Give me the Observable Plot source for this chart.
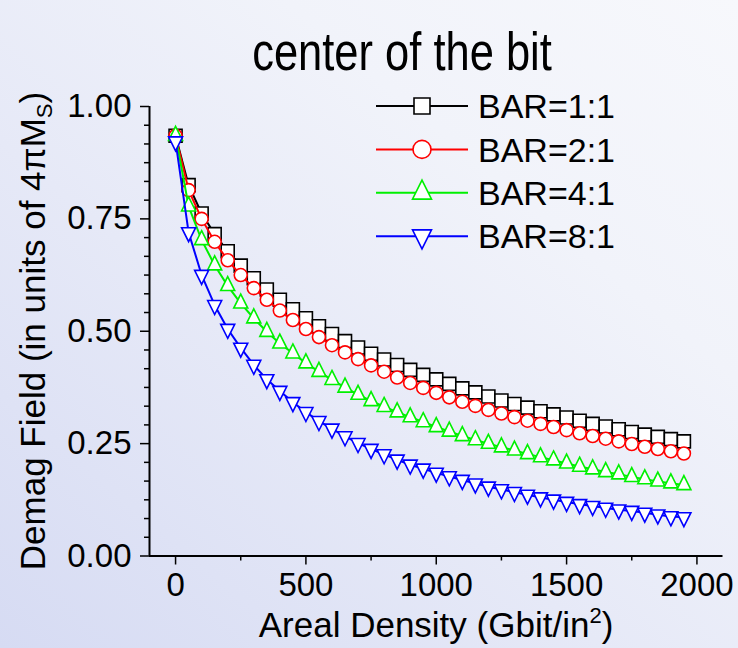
<!DOCTYPE html>
<html>
<head>
<meta charset="utf-8">
<script src="https://cdn.jsdelivr.net/npm/d3@7"></script>
<script src="https://cdn.jsdelivr.net/npm/@observablehq/plot@0.6"></script>
<style>
  html, body { margin: 0; padding: 0; }
  #page {
    position: relative; width: 738px; height: 648px; overflow: hidden;
    background: linear-gradient(40deg, #d6dbf3 0%, #e6e9f7 40%, #f1f3fa 70%, #f7f8fc 100%);
    font-family: "Liberation Sans", Arial, sans-serif;
  }
  #title {
    position: absolute; top: 25px; left: 402px; white-space: nowrap;
    font-size: 53px; line-height: 53px; color: #000;
    transform: translateX(-50%) scaleX(0.82);
  }
  #chart { position: absolute; top: 80px; left: 0; }
  #overlay { position: absolute; top: 0; left: 0; pointer-events: none; }
</style>
</head>
<body>
<div id="page">
  <div id="title">center of the bit</div>
  <div id="chart"></div>
  <svg id="overlay" width="738" height="648"></svg>
</div>
<script>
// ---------- data ----------
const density = [0,50,100,150,200,250,300,350,400,450,500,550,600,650,700,750,800,850,900,950,
  1000,1050,1100,1150,1200,1250,1300,1350,1400,1450,1500,1550,1600,1650,1700,1750,1800,1850,1900,1950];

const bar1 = [0.935,0.825,0.762,0.716,0.678,0.646,0.618,0.593,0.570,0.549,
  0.529,0.511,0.494,0.478,0.464,0.450,0.437,0.425,0.414,0.403,
  0.393,0.383,0.373,0.364,0.355,0.346,0.338,0.330,0.322,0.315,
  0.308,0.301,0.294,0.288,0.282,0.276,0.270,0.265,0.260,0.255];
const bar2 = [0.935,0.814,0.750,0.699,0.658,0.625,0.596,0.570,0.546,0.525,
  0.505,0.487,0.469,0.453,0.438,0.424,0.410,0.397,0.385,0.374,
  0.363,0.353,0.343,0.334,0.325,0.317,0.309,0.301,0.294,0.287,
  0.280,0.273,0.267,0.261,0.255,0.249,0.243,0.238,0.233,0.228];
const bar4 = [0.935,0.778,0.703,0.647,0.601,0.562,0.529,0.499,0.473,0.451,
  0.429,0.410,0.392,0.375,0.359,0.345,0.332,0.320,0.309,0.298,
  0.287,0.277,0.267,0.258,0.250,0.242,0.235,0.227,0.220,0.213,
  0.206,0.199,0.193,0.187,0.182,0.176,0.171,0.166,0.162,0.158];
const bar8 = [0.922,0.720,0.625,0.558,0.505,0.463,0.425,0.393,0.367,0.342,
  0.320,0.300,0.283,0.266,0.251,0.238,0.226,0.214,0.203,0.194,
  0.185,0.177,0.169,0.161,0.154,0.148,0.142,0.136,0.130,0.125,
  0.120,0.115,0.111,0.107,0.103,0.100,0.096,0.092,0.088,0.086];

const seriesNames = ["BAR=1:1", "BAR=2:1", "BAR=4:1", "BAR=8:1"];
const seriesColors = ["#000000", "#ff0000", "#00f000", "#0000ff"];
const xTicks = [0, 500, 1000, 1500, 2000];
const xMinorTicks = [250, 750, 1250, 1750];
const yTicks = [0, 0.25, 0.5, 0.75, 1];
const yMinorTicks = d3.range(1, 24).filter(i => i % 6).map(i => i / 24);

// ---------- symbols ----------
const symSquare = { draw(ctx, size) { const r = Math.sqrt(size / Math.PI); ctx.rect(-r, -r, 2 * r, 2 * r); } };
const symCircle = { draw(ctx, size) { const r = Math.sqrt(size / Math.PI); ctx.moveTo(r, 0); ctx.arc(0, 0, r, 0, 2 * Math.PI); } };
const symTriUp = { draw(ctx, size) { const r = Math.sqrt(size / Math.PI); const h = 2 * r;
  ctx.moveTo(0, -2 * h / 3); ctx.lineTo(r, h / 3); ctx.lineTo(-r, h / 3); ctx.closePath(); } };
const symTriDown = { draw(ctx, size) { const r = Math.sqrt(size / Math.PI); const h = 2 * r;
  ctx.moveTo(0, 2 * h / 3); ctx.lineTo(r, -h / 3); ctx.lineTo(-r, -h / 3); ctx.closePath(); } };
const seriesSymbols = [symSquare, symCircle, symTriUp, symTriDown];
const seriesR = [6.5, 6.5, 7, 7];
const legendR = [8, 9, 9.5, 9.5];

const allValues = [bar1, bar2, bar4, bar8];
const series = seriesNames.map((name, k) => ({
  name, color: seriesColors[k], symbol: seriesSymbols[k], r: seriesR[k], lr: legendR[k],
  rows: density.map((x, i) => ({ x, y: allValues[k][i] }))
}));

const font = "Liberation Sans, Arial, sans-serif";

const marks = [];
series.forEach(s => {
  marks.push(Plot.line(s.rows, { x: "x", y: "y", stroke: s.color, strokeWidth: 2 }));
  marks.push(Plot.dot(s.rows, { x: "x", y: "y", symbol: s.symbol, r: s.r, fill: "white", stroke: s.color, strokeWidth: 1.6 }));
});

const chart = Plot.plot({
  width: 738, height: 568,
  marginLeft: 149, marginRight: 15.5, marginTop: 26, marginBottom: 92.5,
  style: { background: "transparent", fontFamily: font, color: "#000", overflow: "visible" },
  x: { domain: [-100, 2100] },
  y: { domain: [0, 1] },
  marks: [
    Plot.axisX({ ticks: xTicks, tickSize: 9, tickPadding: 8, fontSize: 33, strokeWidth: 1.5, label: null, tickFormat: d => `${d}` }),
    Plot.axisX({ ticks: xMinorTicks, tickSize: 5, strokeWidth: 1.5, label: null, tickFormat: () => "" }),
    Plot.axisY({ ticks: yTicks, tickSize: 9, tickPadding: 9, fontSize: 33, strokeWidth: 1.5, label: null, tickFormat: d3.format(".2f") }),
    Plot.axisY({ ticks: yMinorTicks, tickSize: 5, strokeWidth: 1.5, label: null, tickFormat: () => "" }),
    ...marks,
    Plot.ruleY([0], { x1: -100, x2: 2100, strokeWidth: 2 }),
    Plot.ruleX([-100], { y1: 0, y2: 1, strokeWidth: 2 })
  ]
});
document.getElementById("chart").appendChild(chart);

// ---------- overlay: legend and axis titles ----------
const ov = d3.select("#overlay");
const lg = ov.append("g");
series.forEach((s, k) => {
  const yy = 106 + k * 43.4;
  lg.append("line").attr("x1", 376).attr("x2", 468).attr("y1", yy).attr("y2", yy)
    .attr("stroke", s.color).attr("stroke-width", 2);
  lg.append("path").attr("d", d3.symbol(s.symbol, s.lr * s.lr * Math.PI)())
    .attr("transform", `translate(422,${yy})`)
    .attr("fill", "white").attr("stroke", s.color).attr("stroke-width", 1.6);
  lg.append("text").attr("x", 478).attr("y", yy).attr("dy", "0.36em")
    .attr("font-family", font).attr("font-size", 34).attr("fill", "#000").text(s.name);
});

const xl = ov.append("text").attr("x", 436).attr("y", 637).attr("text-anchor", "middle")
  .attr("font-family", font).attr("font-size", 35).attr("fill", "#000");
xl.append("tspan").text("Areal Density (Gbit/in");
xl.append("tspan").attr("font-size", 22).attr("dy", -14).text("2");
xl.append("tspan").attr("dy", 14).text(")");

const yl = ov.append("text").attr("transform", "translate(45,331) rotate(-90)").attr("text-anchor", "middle")
  .attr("font-family", font).attr("font-size", 35).attr("fill", "#000");
yl.append("tspan").text("Demag Field (in units of 4\u03c0M");
yl.append("tspan").attr("font-size", 22).attr("dy", 7).text("S");
yl.append("tspan").attr("dy", -7).text(")");
</script>
</body>
</html>
